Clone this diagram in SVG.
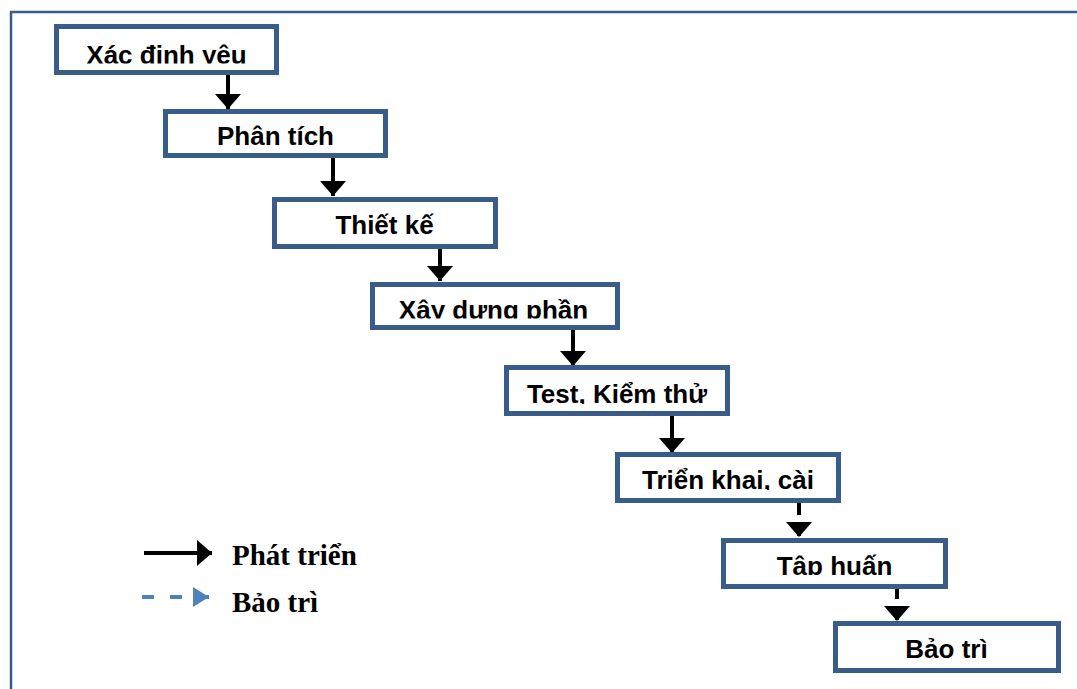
<svg xmlns="http://www.w3.org/2000/svg" width="1077" height="689" viewBox="0 0 1077 689">
  <style>
    .box { fill: #ffffff; stroke: #385d8a; stroke-width: 5; }
    .lbl { font-family: "Liberation Sans", Arial, sans-serif; font-weight: bold; font-size: 26px; fill: #000000; text-anchor: middle; }
    .flow { stroke: #000000; stroke-width: 4; fill: none; marker-end: url(#head); }
    .maint { stroke: #000000; stroke-width: 4; fill: none; stroke-dasharray: 12 9; marker-end: url(#head); }
    .legend { font-family: "Liberation Serif", "Times New Roman", serif; font-weight: bold; font-size: 29px; fill: #000000; }
  </style>
  <defs>
    <marker id="head" viewBox="0 0 15 26" refX="15" refY="13" markerWidth="15" markerHeight="26" markerUnits="userSpaceOnUse" orient="auto">
      <path d="M0,0 L15,13 L0,26 Z" fill="#000000"/>
    </marker>
    <marker id="headBlue" viewBox="0 0 16 20" refX="16" refY="10" markerWidth="16" markerHeight="20" markerUnits="userSpaceOnUse" orient="auto">
      <path d="M0,0 L16,10 L0,20 Z" fill="#4f81bd"/>
    </marker>
    <!-- label areas: text that overflows the label area is cut off -->
    <clipPath id="c1"><rect x="56" y="26" width="221" height="37.5"/></clipPath>
    <clipPath id="c4"><rect x="372" y="284" width="246" height="34.5"/></clipPath>
    <clipPath id="c5"><rect x="506" y="367" width="222" height="37"/></clipPath>
    <clipPath id="c6"><rect x="617" y="454" width="222" height="36"/></clipPath>
    <clipPath id="c7"><rect x="723" y="540" width="223" height="35"/></clipPath>
  </defs>

  <rect width="1077" height="689" fill="#ffffff"/>
  <!-- outer frame -->
  <rect x="11" y="12" width="1100" height="700" fill="none" stroke="#385d8a" stroke-width="2.5"/>

  <g id="connectors">
    <line class="flow" x1="228" y1="75" x2="228" y2="109"/>
    <line class="flow" x1="333" y1="158" x2="333" y2="196"/>
    <line class="flow" x1="440" y1="249" x2="440" y2="281"/>
    <line class="flow" x1="573" y1="330" x2="573" y2="366"/>
    <line class="flow" x1="672" y1="416" x2="672" y2="453"/>
    <line class="maint" x1="799" y1="503" x2="799" y2="537"/>
    <line class="maint" x1="897" y1="587" x2="897" y2="621"/>
  </g>

  <g id="n1">
    <rect class="box" x="56.5" y="26.5" width="220" height="46"/>
    <text class="lbl" x="166.5" y="63.5" clip-path="url(#c1)">Xác đinh yêu</text>
  </g>
  <g id="n2">
    <rect class="box" x="165.5" y="111.5" width="220" height="44"/>
    <text class="lbl" x="275.5" y="145">Phân tích</text>
  </g>
  <g id="n3">
    <rect class="box" x="274.5" y="199.5" width="221" height="47"/>
    <text class="lbl" x="384.5" y="234">Thiết kế</text>
  </g>
  <g id="n4">
    <rect class="box" x="372.5" y="284.5" width="245" height="43"/>
    <text class="lbl" x="493.5" y="318.5" clip-path="url(#c4)">Xây dưng phần</text>
  </g>
  <g id="n5">
    <rect class="box" x="506.5" y="367.5" width="221" height="46"/>
    <text class="lbl" x="617" y="403" clip-path="url(#c5)">Test, Kiểm thử</text>
  </g>
  <g id="n6">
    <rect class="box" x="617.5" y="454.5" width="221" height="46"/>
    <text class="lbl" x="728" y="489" clip-path="url(#c6)">Triển khai, cài</text>
  </g>
  <g id="n7">
    <rect class="box" x="723.5" y="540.5" width="222" height="46"/>
    <text class="lbl" x="834.5" y="574.5" clip-path="url(#c7)">Tâp huấn</text>
  </g>
  <g id="n8">
    <rect class="box" x="835.5" y="623.5" width="223" height="47"/>
    <text class="lbl" x="946.5" y="658">Bảo trì</text>
  </g>

  <g id="legend">
    <line x1="144" y1="553" x2="212" y2="553" stroke="#000000" stroke-width="4" marker-end="url(#head)"/>
    <text class="legend" x="232" y="565">Phát triển</text>
    <line x1="142" y1="597" x2="209" y2="597" stroke="#4f81bd" stroke-width="4" stroke-dasharray="12 16" marker-end="url(#headBlue)"/>
    <text class="legend" x="232" y="612">Bảo trì</text>
  </g>
</svg>
